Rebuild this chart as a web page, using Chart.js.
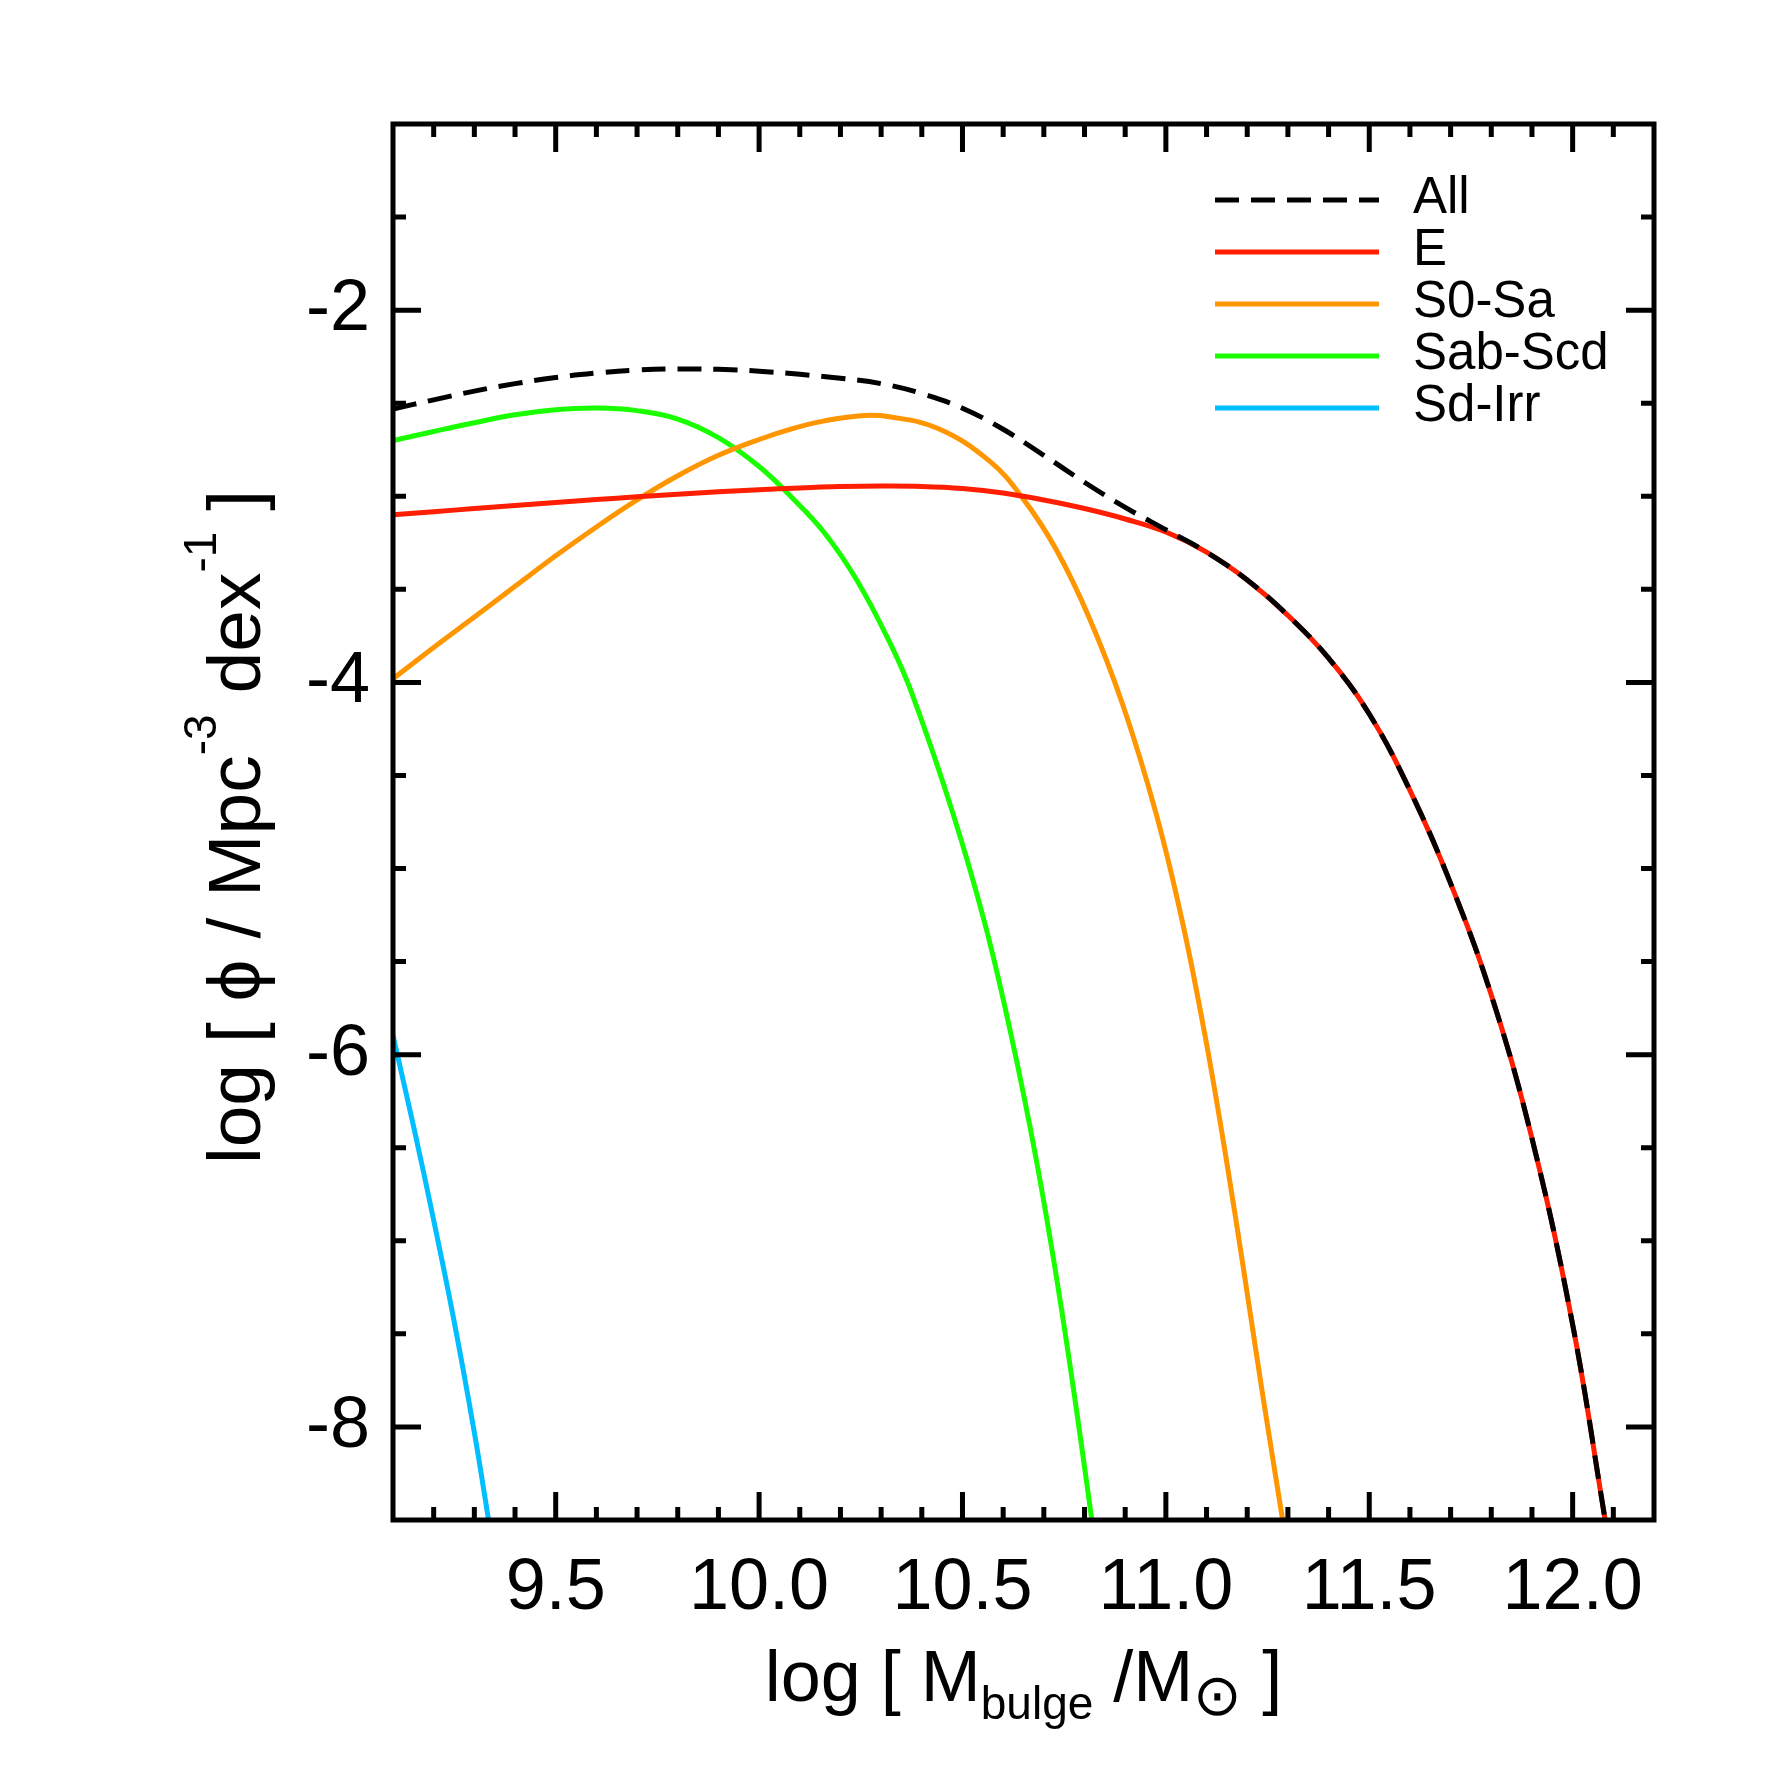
<!DOCTYPE html>
<html>
<head>
<meta charset="utf-8">
<script src="https://cdn.jsdelivr.net/npm/chart.js@4.4.0/dist/chart.umd.min.js"></script>
<style>
  body { margin: 0; background: #fff; }
  canvas { display: block; }
</style>
</head>
<body>
<canvas id="grafico" width="1771" height="1771"></canvas>
<script>
// marcas de los ejes
const xTicks = [9.5, 10.0, 10.5, 11.0, 11.5, 12.0]
const yTicks = [-2, -4, -6, -8]

// All (suma)
const xAll = [9.1, 9.2, 9.3, 9.4, 9.5, 9.6, 9.7, 9.8, 9.9, 10.0, 10.1, 10.2, 10.3, 10.4, 10.5, 10.6, 10.7, 10.8, 10.9, 11.0, 11.1, 11.2, 11.3, 11.4, 11.5, 11.6, 11.7, 11.8, 11.9, 12.0, 12.08]
const yAll = [-2.531, -2.482, -2.435, -2.395, -2.362, -2.338, -2.322, -2.316, -2.318, -2.328, -2.345, -2.366, -2.395, -2.448, -2.527, -2.640, -2.780, -2.925, -3.060, -3.180, -3.300, -3.450, -3.640, -3.870, -4.170, -4.580, -5.080, -5.680, -6.450, -7.450, -8.500]

// E
const xE = [9.1, 9.2, 9.3, 9.4, 9.5, 9.6, 9.7, 9.8, 9.9, 10.0, 10.1, 10.2, 10.3, 10.4, 10.5, 10.6, 10.7, 10.8, 10.9, 11.0, 11.1, 11.2, 11.3, 11.4, 11.5, 11.6, 11.7, 11.8, 11.9, 12.0, 12.08]
const yE = [-3.100, -3.083, -3.066, -3.050, -3.034, -3.018, -3.003, -2.989, -2.976, -2.965, -2.955, -2.948, -2.945, -2.947, -2.958, -2.982, -3.020, -3.066, -3.122, -3.192, -3.300, -3.450, -3.640, -3.870, -4.170, -4.580, -5.080, -5.680, -6.450, -7.450, -8.500]

// S0-Sa
const xS0 = [9.1, 9.2, 9.3, 9.4, 9.5, 9.6, 9.7, 9.8, 9.9, 10.0, 10.08, 10.16, 10.25, 10.32, 10.44, 10.566, 10.648, 10.73, 10.812, 10.894, 10.976, 11.042, 11.099, 11.148, 11.193, 11.238, 11.287]
const yS0 = [-3.980, -3.812, -3.649, -3.484, -3.320, -3.165, -3.020, -2.890, -2.780, -2.695, -2.638, -2.595, -2.567, -2.573, -2.636, -2.810, -3.010, -3.285, -3.655, -4.120, -4.705, -5.300, -5.930, -6.555, -7.182, -7.828, -8.500]

// Sab-Scd
const xSab = [9.1, 9.2, 9.3, 9.4, 9.5, 9.6, 9.7, 9.8, 9.9, 10.0, 10.08, 10.16, 10.24, 10.32, 10.374, 10.476, 10.558, 10.624, 10.681, 10.73, 10.775, 10.818]
const ySab = [-2.701, -2.652, -2.605, -2.562, -2.535, -2.526, -2.540, -2.585, -2.685, -2.840, -3.005, -3.195, -3.450, -3.780, -4.050, -4.700, -5.320, -5.940, -6.560, -7.182, -7.828, -8.500]

// Sd-Irr
const xSd = [9.1, 9.15, 9.2, 9.25, 9.3, 9.335]
const ySd = [-5.898, -6.38, -6.89, -7.43, -8.03, -8.5]

function puntos(xs, ys) {
  return xs.map((x, i) => ({ x: x, y: ys[i] }))
}

const fuente = 'Liberation Sans, Helvetica, Arial, sans-serif'
Chart.defaults.font.family = fuente
Chart.defaults.color = '#000'

// dibuja un texto por trozos (sub/superindices)
function anchoPartes(ctx, partes) {
  let w = 0
  partes.forEach(p => {
    ctx.font = p.s + 'px ' + fuente
    w += ctx.measureText(p.t).width
  })
  return w
}

function dibujarPartes(ctx, partes, x0, y0) {
  let x = x0
  partes.forEach(p => {
    ctx.font = p.s + 'px ' + fuente
    ctx.fillText(p.t, x, y0 + (p.dy || 0))
    x += ctx.measureText(p.t).width
  })
}

const marco = {
  id: 'marco',
  afterDatasetsDraw(chart) {
    const { ctx, chartArea: a, scales: { x, y } } = chart
    ctx.save()
    ctx.strokeStyle = '#000'
    ctx.lineWidth = 5
    ctx.lineCap = 'butt'

    // marcas hacia dentro en los cuatro lados
    ctx.beginPath()
    for (let i = 92; i <= 121; i++) {
      const v = i / 10
      const px = x.getPixelForValue(v)
      const largo = xTicks.some(t => Math.abs(t - v) < 1e-6) ? 28 : 13
      ctx.moveTo(px, a.bottom); ctx.lineTo(px, a.bottom - largo)
      ctx.moveTo(px, a.top); ctx.lineTo(px, a.top + largo)
    }
    for (let i = 3; i <= 16; i++) {
      const v = -i / 2
      const py = y.getPixelForValue(v)
      const largo = yTicks.includes(v) ? 28 : 13
      ctx.moveTo(a.left, py); ctx.lineTo(a.left + largo, py)
      ctx.moveTo(a.right, py); ctx.lineTo(a.right - largo, py)
    }
    ctx.stroke()
    ctx.lineJoin = 'miter'
    ctx.strokeRect(a.left, a.top, a.right - a.left, a.bottom - a.top)

    // leyenda
    chart.data.datasets.forEach((d, i) => {
      const ly = 200 + i * 52
      ctx.beginPath()
      ctx.strokeStyle = d.borderColor
      ctx.setLineDash(d.borderDash || [])
      ctx.moveTo(1215, ly); ctx.lineTo(1379, ly)
      ctx.stroke()
      ctx.setLineDash([])
      ctx.fillStyle = '#000'
      ctx.font = '51px ' + fuente
      ctx.textAlign = 'left'
      ctx.textBaseline = 'alphabetic'
      ctx.fillText(d.label, 1413, ly + 13)
    })

    // titulo eje x
    ctx.fillStyle = '#000'
    ctx.textBaseline = 'alphabetic'
    const tx = [
      { t: 'log [ M', s: 72 },
      { t: 'bulge', s: 46, dy: 18 },
      { t: ' /M', s: 72 },
      { t: '\u2299', s: 58, dy: 14 },
      { t: ' ]', s: 72 }
    ]
    const wx = anchoPartes(ctx, tx)
    dibujarPartes(ctx, tx, (a.left + a.right) / 2 - wx / 2, 1701)

    // titulo eje y
    const ty = [
      { t: 'log [ \u03d5 / Mpc', s: 75 },
      { t: '-3', s: 46, dy: -44 },
      { t: ' dex', s: 75 },
      { t: '-1', s: 46, dy: -44 },
      { t: ' ]', s: 75 }
    ]
    const wy = anchoPartes(ctx, ty)
    ctx.translate(260, (a.top + a.bottom) / 2 + 5)
    ctx.rotate(-Math.PI / 2)
    dibujarPartes(ctx, ty, -wy / 2, 0)
    ctx.restore()
  }
}

const ctx = document.getElementById('grafico').getContext('2d')

new Chart(ctx, {
  type: 'line',
  data: {
    datasets: [
      { label: 'All', data: puntos(xAll, yAll), borderColor: '#000000', borderDash: [24, 12] },
      { label: 'E', data: puntos(xE, yE), borderColor: 'rgb(255,30,0)' },
      { label: 'S0-Sa', data: puntos(xS0, yS0), borderColor: 'rgb(255,150,0)' },
      { label: 'Sab-Scd', data: puntos(xSab, ySab), borderColor: 'rgb(25,255,0)' },
      { label: 'Sd-Irr', data: puntos(xSd, ySd), borderColor: 'rgb(0,190,255)' }
    ]
  },
  options: {
    responsive: false,
    animation: false,
    devicePixelRatio: 1,
    layout: { padding: { top: 124, right: 117, left: 0, bottom: 0 } },
    plugins: { legend: { display: false }, tooltip: { enabled: false } },
    elements: {
      point: { radius: 0 },
      line: { borderWidth: 5, tension: 0.4, fill: false }
    },
    scales: {
      x: {
        type: 'linear', min: 9.1, max: 12.2,
        grid: { display: false, drawTicks: false },
        border: { display: false },
        ticks: { padding: 26, font: { size: 72 }, color: '#000', autoSkip: false, maxRotation: 0, callback: v => v.toFixed(1) },
        afterBuildTicks: s => { s.ticks = xTicks.map(v => ({ value: v })) },
        afterFit: s => { s.height = 251 }
      },
      y: {
        type: 'linear', min: -8.5, max: -1,
        grid: { display: false, drawTicks: false },
        border: { display: false },
        ticks: { padding: 23, font: { size: 72 }, color: '#000', autoSkip: false, callback: v => String(v) },
        afterBuildTicks: s => { s.ticks = yTicks.map(v => ({ value: v })) },
        afterFit: s => { s.width = 393 }
      }
    }
  },
  plugins: [marco]
})
</script>
</body>
</html>
